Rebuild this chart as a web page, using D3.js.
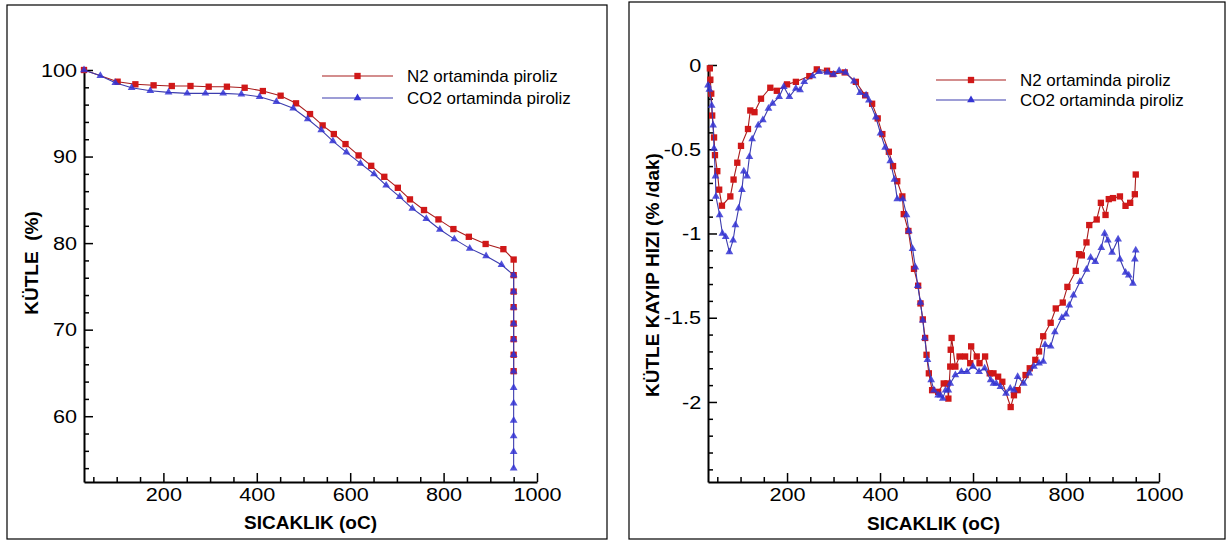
<!DOCTYPE html>
<html><head><meta charset="utf-8">
<script src="https://cdn.jsdelivr.net/npm/d3@7"></script>
<style>
body{margin:0;background:#fff}
text{font-family:"Liberation Sans",Arial,Helvetica,sans-serif;fill:#000}
</style>
</head><body>
<svg id="c" width="1228" height="542"></svg>
<script>
// ---------- DATA ----------
const seriesNames = ["N2 ortaminda piroliz", "CO2 ortaminda piroliz"];
const xTitle = "SICAKLIK (oC)";
const yTitleMass = "KÜTLE  (%)";
const yTitleRate = "KÜTLE KAYIP HIZI (% /dak)";

// Left chart: mass (%) vs temperature
const n2MassT = [30,102,140,179,218,258,297,336,374,413,451,484,514,541,565,590,618,645,673,702,728,758,789,821,854,890,928,950,950,950,950,950,950,950,950];
const n2Mass  = [100,98.65,98.35,98.23,98.15,98.15,98.07,98.07,97.95,97.57,97.03,96.15,94.91,93.6,92.6,91.44,90.13,88.93,87.66,86.39,85.05,83.82,82.74,81.62,80.73,79.9,79.3,78.1,76.3,74.4,72.6,70.7,68.9,67.1,65.2];
const co2MassT = [30,65,97,132,172,211,251,290,328,367,406,442,478,509,538,563,592,622,651,677,706,733,763,792,823,856,891,924,950,950,950,950,950,950,950,950,950,950,950,950,950];
const co2Mass  = [100,99.34,98.53,97.95,97.6,97.42,97.3,97.3,97.3,97.19,96.91,96.34,95.57,94.34,93.06,91.79,90.49,89.21,87.98,86.67,85.35,84.01,82.81,81.58,80.46,79.39,78.5,77.5,76.3,74.4,72.6,70.7,68.9,67.1,65.2,63.3,61.5,59.5,57.7,55.9,54.0];

// Right chart: mass loss rate (%/dak) vs temperature
const n2RateT = [34,35,37,39,43,45,50,54,60,78,85,93,101,116,121,130,144,164,178,200,219,248,264,286,298,324,348,368,383,395,405,419,428,437,448,451,461,473,482,487,492,497,500,505,512,525,537,545,547,551,552,554,562,571,583,594,596,608,614,626,636,644,654,663,681,688,696,713,722,734,742,751,767,778,793,803,821,828,834,844,850,866,875,885,892,901,916,928,938,948,950];
const n2Rate  = [-0.02,-0.087,-0.17,-0.30,-0.43,-0.535,-0.63,-0.74,-0.835,-0.78,-0.68,-0.58,-0.48,-0.38,-0.27,-0.28,-0.20,-0.135,-0.153,-0.115,-0.10,-0.066,-0.026,-0.034,-0.054,-0.044,-0.10,-0.18,-0.23,-0.317,-0.41,-0.515,-0.60,-0.69,-0.78,-0.885,-0.985,-1.21,-1.31,-1.415,-1.51,-1.62,-1.72,-1.83,-1.93,-1.94,-1.89,-1.89,-1.98,-1.79,-1.69,-1.62,-1.79,-1.73,-1.73,-1.77,-1.67,-1.73,-1.77,-1.73,-1.83,-1.83,-1.85,-1.88,-2.03,-1.96,-1.93,-1.84,-1.80,-1.75,-1.70,-1.61,-1.53,-1.445,-1.41,-1.317,-1.222,-1.123,-1.13,-1.053,-0.95,-0.917,-0.818,-0.89,-0.796,-0.79,-0.78,-0.836,-0.818,-0.767,-0.65];
const co2RateT = [30,33,38,41,43,46,47,55,61,68,76,84,89,96,103,107,114,119,125,138,148,160,169,183,193,205,219,228,237,255,269,287,300,312,326,344,357,370,376,391,401,411,422,431,437,449,457,462,470,476,481,487,492,496,502,510,516,525,530,535,541,547,551,562,575,587,600,613,625,638,644,650,659,671,680,688,696,709,721,731,742,751,755,767,776,791,800,807,816,830,844,853,863,876,883,890,899,912,916,928,935,944,948,950];
const co2Rate  = [-0.12,-0.145,-0.24,-0.357,-0.495,-0.66,-0.78,-0.89,-1.0,-1.02,-1.11,-1.04,-0.95,-0.85,-0.74,-0.63,-0.66,-0.545,-0.44,-0.357,-0.327,-0.258,-0.228,-0.189,-0.129,-0.189,-0.139,-0.149,-0.10,-0.066,-0.04,-0.044,-0.056,-0.034,-0.044,-0.097,-0.165,-0.18,-0.21,-0.31,-0.405,-0.49,-0.57,-0.68,-0.795,-0.795,-0.89,-0.985,-1.09,-1.20,-1.31,-1.41,-1.515,-1.62,-1.75,-1.87,-1.93,-1.96,-1.96,-1.98,-1.93,-1.93,-1.89,-1.84,-1.82,-1.82,-1.79,-1.82,-1.80,-1.87,-1.89,-1.89,-1.91,-1.95,-1.92,-1.93,-1.85,-1.89,-1.83,-1.79,-1.77,-1.76,-1.66,-1.67,-1.585,-1.50,-1.48,-1.426,-1.366,-1.287,-1.214,-1.143,-1.168,-1.085,-1.0,-1.04,-1.113,-1.034,-1.153,-1.232,-1.248,-1.297,-1.153,-1.10];

// Ticks
const xMajor = [200,400,600,800,1000];
const xMinor = d3.range(50,1000,50).filter(v => v % 200 !== 0);
const massMajor = [60,70,80,90,100];
const massMinor = d3.range(54,100,2).filter(v => v % 10 !== 0);
const rateMajor = [0,-0.5,-1,-1.5,-2];
const rateMinor = d3.range(-24,0,1).filter(v => v % 5 !== 0).map(v => v/10);

// ---------- STYLE ----------
const RED_LINE = "#a81c1c", RED_MARK = "#d01818";
const BLUE_LINE = "#3c3cae", BLUE_MARK = "#3434d4";

const svg = d3.select("#c");

function panel(cfg){
  const g = svg.append("g");
  g.append("rect").attr("x",cfg.box[0]).attr("y",cfg.box[1]).attr("width",cfg.box[2]).attr("height",cfg.box[3])
    .attr("fill","none").attr("stroke","#000").attr("stroke-width",1.2);

  const x = d3.scaleLinear().domain([30,1000]).range(cfg.xr);
  const y = d3.scaleLinear().domain(cfg.yd).range(cfg.yr);

  // axes
  const yAxisG = g.append("g").attr("transform",`translate(${cfg.xr[0]},0)`);
  yAxisG.call(d3.axisLeft(y).tickValues(cfg.yMinor).tickSize(-5).tickFormat(""));
  yAxisG.select(".domain").remove();
  const yMaj = g.append("g").attr("transform",`translate(${cfg.xr[0]},0)`)
    .call(d3.axisLeft(y).tickValues(cfg.yMajor).tickSize(-9).tickSizeOuter(0).tickPadding(6).tickFormat(cfg.yFmt));
  yMaj.selectAll("text").attr("font-size",19).attr("font-family","Liberation Sans, Arial, sans-serif")
    .attr("transform","scale(1.14,1)");

  const xAxisG = g.append("g").attr("transform",`translate(0,${cfg.yr[0]})`);
  xAxisG.call(d3.axisBottom(x).tickValues(xMinor).tickSize(-5).tickFormat(""));
  xAxisG.select(".domain").remove();
  const xMaj = g.append("g").attr("transform",`translate(0,${cfg.yr[0]})`)
    .call(d3.axisBottom(x).tickValues(xMajor).tickSize(-9).tickSizeOuter(0).tickPadding(6).tickFormat(d3.format("d")));
  xMaj.selectAll("text").attr("font-size",19).attr("font-family","Liberation Sans, Arial, sans-serif")
    .attr("transform","scale(1.14,1)");
  g.selectAll(".domain").attr("stroke-width",2).attr("stroke","#000");
  g.selectAll(".tick line").attr("stroke","#000").attr("stroke-width",1.5);

  // titles
  g.append("text").attr("x",(cfg.xr[0]+cfg.xr[1])/2).attr("y",cfg.xTitleY).attr("text-anchor","middle")
    .attr("font-size",19).attr("font-weight","bold").text(xTitle);
  g.append("text").attr("transform",`translate(${cfg.yTitle[0]},${cfg.yTitle[1]}) rotate(-90)`)
    .attr("text-anchor","middle").attr("dominant-baseline","central")
    .attr("font-size",19).attr("font-weight","bold").attr("xml:space","preserve").style("white-space","pre").text(cfg.yTitleText);

  const line = d3.line().x(d => x(d[0])).y(d => y(d[1]));
  const sq = d3.symbol(d3.symbolSquare, 40)();
  const tri = d3.symbol(d3.symbolTriangle, 26)();

  const s1 = cfg.n2T.map((t,i) => [t, cfg.n2V[i]]);
  const s2 = cfg.co2T.map((t,i) => [t, cfg.co2V[i]]);

  g.append("path").datum(s1).attr("d",line).attr("fill","none").attr("stroke",RED_LINE).attr("stroke-width",1.1);
  g.selectAll(".m1").data(s1).join("path").attr("d",sq).attr("fill",RED_MARK)
    .attr("transform",d => `translate(${x(d[0])},${y(d[1])})`);
  g.append("path").datum(s2).attr("d",line).attr("fill","none").attr("stroke",BLUE_LINE).attr("stroke-width",1.1);
  g.selectAll(".m2").data(s2).join("path").attr("d",tri).attr("fill",BLUE_MARK).attr("fill-opacity",0.85)
    .attr("transform",d => `translate(${x(d[0])},${y(d[1])})`);

  // legend
  const L = cfg.legend;
  [[RED_LINE,RED_MARK,sq],[BLUE_LINE,BLUE_MARK,tri]].forEach((c,i) => {
    const yy = L.y[i];
    g.append("line").attr("x1",L.x1).attr("x2",L.x2).attr("y1",yy).attr("y2",yy).attr("stroke",c[0]).attr("stroke-width",1.1);
    g.append("path").attr("d",c[2]).attr("fill",c[1]).attr("transform",`translate(${(L.x1+L.x2)/2},${yy})`);
    g.append("text").attr("transform",`translate(${L.tx},${yy}) scale(1.06,1)`).attr("dy","0.36em")
      .attr("font-size",16).text(seriesNames[i]);
  });
}

panel({
  box:[7,5,600,534], xr:[84,537], yd:[52.4,100], yr:[482,70],
  yMajor:massMajor, yMinor:massMinor, yFmt:d3.format("d"),
  xTitleY:529, yTitle:[31,263], yTitleText:yTitleMass,
  n2T:n2MassT, n2V:n2Mass, co2T:co2MassT, co2V:co2Mass,
  legend:{x1:322,x2:393,y:[76,98],tx:407}
});
panel({
  box:[629,2,596,537], xr:[708,1159], yd:[-2.475,0], yr:[482,65],
  yMajor:rateMajor, yMinor:rateMinor, yFmt:d => String(d),
  xTitleY:530, yTitle:[652,275], yTitleText:yTitleRate,
  n2T:n2RateT, n2V:n2Rate, co2T:co2RateT, co2V:co2Rate,
  legend:{x1:936,x2:1006,y:[80,100],tx:1020}
});
</script>
</body></html>
